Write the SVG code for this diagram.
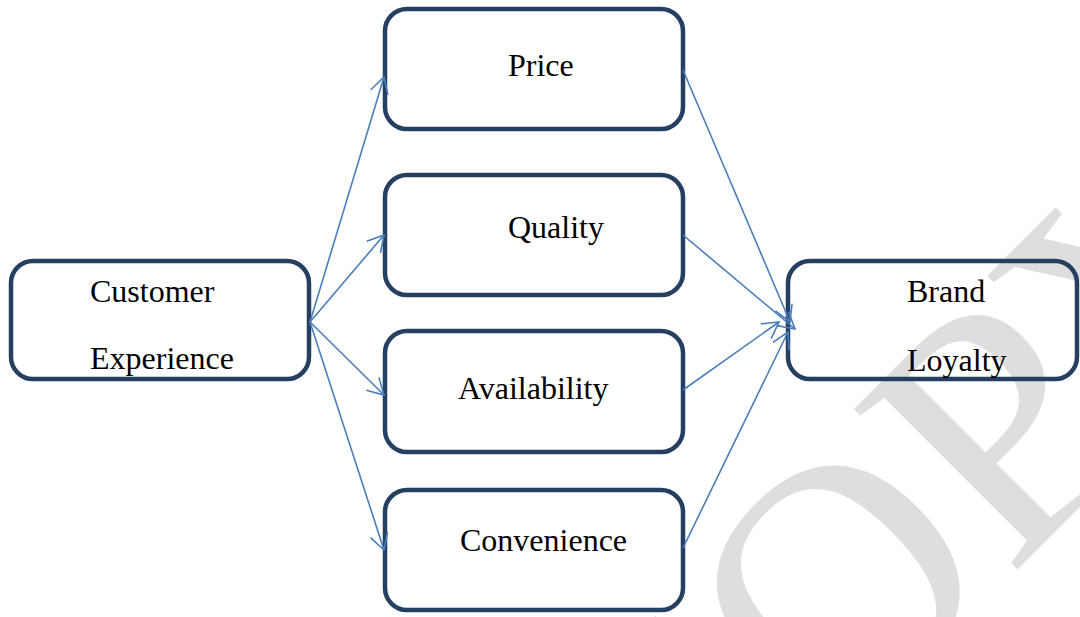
<svg xmlns="http://www.w3.org/2000/svg" width="1080" height="617" viewBox="0 0 1080 617">
  <style>
    .box { fill: none; stroke: #243f60; stroke-width: 4.5; }
    .label { font-family: "Liberation Serif", "Times New Roman", serif; font-size: 32px; fill: #000; }
    .link { fill: none; stroke: #4a7ebb; stroke-width: 1.6; marker-end: url(#open); }
    .mark { font-family: "Liberation Serif", "Times New Roman", serif; font-size: 350px; fill: #dedede; }
  </style>
  <defs>
    <marker id="open" markerUnits="userSpaceOnUse" viewBox="0 0 18 20" refX="17" refY="10" markerWidth="18" markerHeight="20" orient="auto">
      <path d="M1,1 L17,10 L1,19" fill="none" stroke="#4a7ebb" stroke-width="1.6"/>
    </marker>
  </defs>
  <rect width="1080" height="617" fill="#fff"/>

  <!-- background watermark -->
  <text class="mark" transform="translate(665,922) rotate(-45)">COPY</text>

  <g id="customer-experience">
    <rect class="box" x="11" y="261" width="298" height="118" rx="22"/>
    <text class="label" x="90" y="302">Customer</text>
    <text class="label" x="90" y="369">Experience</text>
  </g>
  <g id="price">
    <rect class="box" x="385" y="9" width="298" height="120" rx="22"/>
    <text class="label" x="508" y="76">Price</text>
  </g>
  <g id="quality">
    <rect class="box" x="385" y="175" width="298" height="120" rx="22"/>
    <text class="label" x="508" y="238">Quality</text>
  </g>
  <g id="availability">
    <rect class="box" x="385" y="331" width="298" height="121" rx="22"/>
    <text class="label" x="458" y="399">Availability</text>
  </g>
  <g id="convenience">
    <rect class="box" x="385" y="490" width="298" height="120" rx="22"/>
    <text class="label" x="460" y="551">Convenience</text>
  </g>
  <g id="brand-loyalty">
    <rect class="box" x="788" y="261" width="289" height="118" rx="22"/>
    <text class="label" x="907" y="302">Brand</text>
    <text class="label" x="907" y="371">Loyalty</text>
  </g>

  <g id="connectors">
    <line class="link" x1="310" y1="322" x2="384" y2="77"/>
    <line class="link" x1="310" y1="322" x2="384" y2="235"/>
    <line class="link" x1="310" y1="322" x2="384" y2="395"/>
    <line class="link" x1="310" y1="322" x2="384" y2="550"/>
    <line class="link" x1="683" y1="70" x2="790" y2="322"/>
    <line class="link" x1="683" y1="235" x2="795" y2="329"/>
    <line class="link" x1="683" y1="390" x2="779" y2="322"/>
    <line class="link" x1="683" y1="548" x2="788" y2="332"/>
  </g>
</svg>
